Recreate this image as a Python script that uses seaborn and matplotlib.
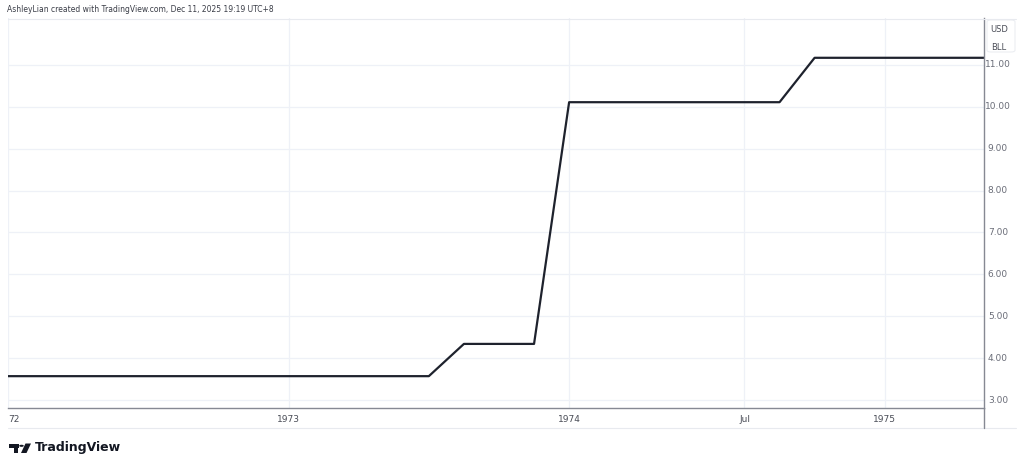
import numpy as np
import pandas as pd
import matplotlib
matplotlib.use('Agg')
import matplotlib.pyplot as plt
import matplotlib.patches as mpatches
import seaborn as sns

# price series, one entry per bar (TradingView spaces bars evenly)
bar = list(range(29))
price = [3.57, 3.57, 3.57, 3.57, 3.57, 3.57, 3.57, 3.57, 3.57, 3.57,
         3.57, 3.57, 3.57, 4.34, 4.34, 4.34, 10.11, 10.11, 10.11, 10.11,
         10.11, 10.11, 10.11, 11.17, 11.17, 11.17, 11.17, 11.17, 11.17]
tick_bars = [0, 8, 16, 21, 25]
tick_labels = ['72', '1973', '1974', 'Jul', '1975']   # '1972' is cut by the pane edge
y_ticks = [3, 4, 5, 6, 7, 8, 9, 10, 11]

df = pd.DataFrame({'bar': bar, 'price': price})

sns.set_theme(style='white')
plt.rcParams['font.family'] = ['DejaVu Sans']

W, H = 1024, 470
fig = plt.figure(figsize=(W / 100, H / 100), dpi=100)
fig.patch.set_facecolor('white')

def fx(px):
    return px / W

def fy(py):
    return 1 - py / H

# main pane
ax = fig.add_axes([fx(8), fy(408), fx(984) - fx(8), fy(18) - fy(408)])
sns.lineplot(data=df, x='bar', y='price', ax=ax, color='#1e222d', linewidth=1.6)
ax.set_xlim(0.02, 27.83)
ax.set_ylim(2.81, 12.12)
ax.set_xticks(tick_bars)
ax.set_yticks(y_ticks)
ax.grid(True, color='#eef1f7', linewidth=0.9)
ax.set_axisbelow(True)
ax.tick_params(axis='x', length=0, labelbottom=False)
ax.tick_params(axis='y', length=0, labelleft=False)
ax.set_xlabel('')
ax.set_ylabel('')
for s in ['left', 'top']:
    ax.spines[s].set_visible(False)
ax.spines['right'].set_color('#868993')
ax.spines['right'].set_linewidth(1.0)
ax.spines['bottom'].set_color('#868993')
ax.spines['bottom'].set_linewidth(1.0)

# price scale labels
for v in y_ticks:
    ax.annotate(f'{v:.2f}', xy=(1, v), xycoords=('axes fraction', 'data'),
                xytext=(10, 0), textcoords='offset points',
                ha='center', va='center', fontsize=6.5, color='#6a6d78')

# time scale labels
for b, lab in zip(tick_bars, tick_labels):
    ha = 'left' if b == 0 else 'center'
    ax.annotate(lab, xy=(b, 0), xycoords=('data', 'axes fraction'),
                xytext=(0, -8), textcoords='offset points',
                ha=ha, va='center', fontsize=6.5, color='#4a4d57',
                annotation_clip=False)

# outer frame lines
fig.add_artist(plt.Line2D([fx(8), fx(1016)], [fy(19), fy(19)], color='#e8eaef', lw=0.8))
fig.add_artist(plt.Line2D([fx(8), fx(1016)], [fy(428), fy(428)], color='#e8eaef', lw=0.8))
fig.add_artist(plt.Line2D([fx(984), fx(984)], [fy(408), fy(428)], color='#868993', lw=1.0))

# currency / unit badge
badge = mpatches.FancyBboxPatch((fx(987), fy(52)), fx(28), fy(20) - fy(52),
                                boxstyle='round,pad=0,rounding_size=0.004',
                                transform=fig.transFigure, facecolor='white',
                                edgecolor='#eceef2', lw=0.8)
fig.add_artist(badge)
fig.text(fx(999), fy(30), 'USD', ha='center', va='center', fontsize=6, color='#4a4d57')
fig.text(fx(999), fy(47), 'BLL', ha='center', va='center', fontsize=6, color='#4a4d57')

# header
fig.text(fx(7), fy(10), 'AshleyLian created with TradingView.com, Dec 11, 2025 19:19 UTC+8',
         ha='left', va='center', fontsize=5.5, color='#3a3d47')

# TradingView logo
logo_c = '#131722'
fig.add_artist(mpatches.Rectangle((fx(9), fy(448)), fx(9.5), fy(443.5) - fy(448),
                                  transform=fig.transFigure, color=logo_c, lw=0))
fig.add_artist(mpatches.Rectangle((fx(13.5), fy(453)), fx(4.5), fy(447) - fy(453),
                                  transform=fig.transFigure, color=logo_c, lw=0))
fig.add_artist(mpatches.Circle((fx(21.5), fy(445.8)), 2.3 / W,
                               transform=fig.transFigure, color=logo_c, lw=0))
fig.add_artist(mpatches.Polygon([(fx(25.5), fy(443.5)), (fx(31), fy(443.5)),
                                 (fx(26.5), fy(453)), (fx(21), fy(453))],
                                transform=fig.transFigure, color=logo_c, lw=0))
fig.text(fx(35), fy(448), 'TradingView', ha='left', va='center',
         fontsize=9, fontweight='bold', color=logo_c)

fig.savefig('out.png', dpi=100, facecolor='white')
